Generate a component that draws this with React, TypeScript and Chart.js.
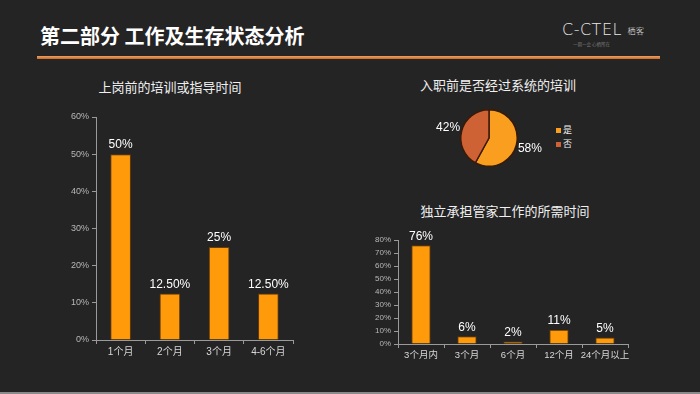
import React, { useEffect, useRef } from "react";
import { Chart, registerables } from "chart.js";

Chart.register(...registerables);

const leftTitle = "上岗前的培训或指导时间";
const leftCategories = ["1个月", "2个月", "3个月", "4-6个月"];
const leftValues = [50, 12.5, 25, 12.5];
const leftLabels = ["50%", "12.50%", "25%", "12.50%"];

const pieTitle = "入职前是否经过系统的培训";
const pieCategories = ["是", "否"];
const pieValues = [58, 42];
const pieLabels = ["58%", "42%"];

const rightTitle = "独立承担管家工作的所需时间";
const rightCategories = ["3个月内", "3个月", "6个月", "12个月", "24个月以上"];
const rightValues = [76, 6, 2, 11, 5];
const rightLabels = ["76%", "6%", "2%", "11%", "5%"];

const FONT = "Arial, 'Liberation Sans', 'Noto Sans CJK SC', sans-serif";
const BAR = "#FF9A0A";
const BAR_BORDER = "#6a3a08";
const AXIS = "#9a9a9a";
const TICK = "#b8b8b8";

function barValuePlugin(labels: string[], size: number) {
  return {
    id: "barValues",
    afterDatasetsDraw(chart: any) {
      const ctx = chart.ctx;
      const meta = chart.getDatasetMeta(0);
      ctx.save();
      ctx.fillStyle = "#ffffff";
      ctx.font = `${size}px ${FONT}`;
      ctx.textAlign = "center";
      ctx.textBaseline = "bottom";
      meta.data.forEach((el: any, i: number) => {
        ctx.fillText(labels[i], el.x, el.y - 3);
      });
      ctx.restore();
    },
  };
}

function makeBar(canvas: HTMLCanvasElement, cats: string[], vals: number[], labels: string[], opts: any) {
  return new Chart(canvas, {
    type: "bar",
    data: {
      labels: cats,
      datasets: [
        {
          data: vals,
          backgroundColor: BAR,
          borderColor: BAR_BORDER,
          borderWidth: 1,
          barPercentage: opts.barPct,
          categoryPercentage: 1,
        },
      ],
    },
    options: {
      animation: false,
      responsive: false,
      maintainAspectRatio: false,
      layout: { padding: opts.padding },
      plugins: { legend: { display: false }, tooltip: { enabled: false } },
      scales: {
        x: {
          offset: true,
          grid: { display: true, drawOnChartArea: false, drawTicks: true, tickLength: 4, color: AXIS, offset: true },
          border: { display: true, color: AXIS, width: 1 },
          ticks: {
            color: "#d8d8d8",
            font: { size: opts.xFont, family: FONT },
            padding: 2,
            maxRotation: 0,
            minRotation: 0,
            autoSkip: false,
          },
          afterFit: (s: any) => { s.height = opts.xHeight; },
        },
        y: {
          min: 0,
          max: opts.max,
          grid: { display: true, drawOnChartArea: false, drawTicks: true, tickLength: 4, color: AXIS },
          border: { display: true, color: AXIS, width: 1 },
          ticks: {
            stepSize: 10,
            color: TICK,
            font: { size: opts.yFont, family: FONT },
            padding: 3,
            autoSkip: false,
            callback: (v: any) => `${v}%`,
          },
          afterFit: (s: any) => { s.width = opts.yWidth; },
        },
      },
    },
    plugins: [barValuePlugin(labels, opts.labelFont)],
  } as any);
}

export default function App() {
  const leftRef = useRef<HTMLCanvasElement>(null);
  const pieRef = useRef<HTMLCanvasElement>(null);
  const rightRef = useRef<HTMLCanvasElement>(null);

  useEffect(() => {
    document.body.style.margin = "0";
    document.body.style.background = "#242424";
    const left = makeBar(leftRef.current!, leftCategories, leftValues, leftLabels, {
      barPct: 0.42,
      padding: { top: 42, right: 10, left: 0, bottom: 0 },
      xHeight: 22,
      yWidth: 36,
      max: 60,
      xFont: 10,
      yFont: 9,
      labelFont: 12,
    });
    const right = makeBar(rightRef.current!, rightCategories, rightValues, rightLabels, {
      barPct: 0.42,
      padding: { top: 20, right: 8, left: 0, bottom: 0 },
      xHeight: 22,
      yWidth: 38,
      max: 80,
      xFont: 9.5,
      yFont: 8,
      labelFont: 12,
    });
    const pie = new Chart(pieRef.current!, {
      type: "pie",
      data: {
        labels: pieCategories,
        datasets: [
          {
            data: pieValues,
            backgroundColor: ["#F99E1E", "#CF6235"],
            borderColor: "#3a1a08",
            borderWidth: 1.5,
          },
        ],
      },
      options: {
        animation: false,
        responsive: false,
        maintainAspectRatio: false,
        layout: { padding: { top: 4, bottom: 4, left: 30, right: 30 } },
        plugins: { legend: { display: false }, tooltip: { enabled: false } },
      },
      plugins: [
        {
          id: "pieLabels",
          afterDatasetsDraw(chart: any) {
            const ctx = chart.ctx;
            const meta = chart.getDatasetMeta(0);
            ctx.save();
            ctx.fillStyle = "#ffffff";
            ctx.font = `12px ${FONT}`;
            ctx.textAlign = "center";
            ctx.textBaseline = "middle";
            meta.data.forEach((el: any, i: number) => {
              const mid = (el.startAngle + el.endAngle) / 2;
              const r = el.outerRadius + 14;
              ctx.fillText(pieLabels[i], el.x + Math.cos(mid) * r, el.y + Math.sin(mid) * r);
            });
            ctx.restore();
          },
        },
      ],
    } as any);
    return () => {
      left.destroy();
      right.destroy();
      pie.destroy();
    };
  }, []);

  const legendColors = ["#F99E1E", "#CF6235"];

  return (
    <div
      style={{
        position: "absolute",
        left: 0,
        top: 0,
        width: 700,
        height: 394,
        background: "#242424",
        overflow: "hidden",
        fontFamily: FONT,
      }}
    >
      <div
        style={{
          position: "absolute",
          left: 40,
          top: 22,
          color: "#ffffff",
          fontSize: 20,
          fontWeight: "bold",
          fontFamily: "'Noto Sans CJK SC', sans-serif",
          lineHeight: "28px",
          whiteSpace: "nowrap",
        }}
      >
        第二部分 工作及生存状态分析
      </div>
      <div
        style={{
          position: "absolute",
          left: 37,
          top: 56,
          width: 623,
          height: 3,
          background: "linear-gradient(#f0a060, #c86a28)",
        }}
      />
      <div style={{ position: "absolute", left: 562, top: 21, color: "#e8e8e8", fontSize: 16, letterSpacing: 0.5, whiteSpace: "nowrap", lineHeight: "18px", fontFamily: "'DejaVu Sans', sans-serif", fontWeight: 300 }}>
        C-CTEL <span style={{ fontSize: 8, verticalAlign: "middle", fontFamily: "'Noto Sans CJK SC', sans-serif" }}>栖客</span>
      </div>
      <div style={{ position: "absolute", left: 573, top: 41, color: "#777", fontSize: 4.5, whiteSpace: "nowrap", fontFamily: "'Noto Sans CJK SC', sans-serif" }}>
        一期一会 心栖所在
      </div>

      <div style={{ position: "absolute", left: 70, top: 78, width: 200, textAlign: "center", color: "#f0f0f0", fontSize: 13, lineHeight: "18px", fontFamily: "'Noto Sans CJK SC', sans-serif", whiteSpace: "nowrap" }}>
        {leftTitle}
      </div>
      <canvas ref={leftRef} width={243} height={287} style={{ position: "absolute", left: 60, top: 75, width: 243, height: 287 }} />

      <div style={{ position: "absolute", left: 398, top: 76, width: 200, textAlign: "center", color: "#f0f0f0", fontSize: 13, lineHeight: "18px", fontFamily: "'Noto Sans CJK SC', sans-serif", whiteSpace: "nowrap" }}>
        {pieTitle}
      </div>
      <canvas ref={pieRef} width={120} height={66} style={{ position: "absolute", left: 429, top: 105, width: 120, height: 66 }} />
      <div style={{ position: "absolute", left: 556, top: 123, fontSize: 9, color: "#f0f0f0", lineHeight: "14px", fontFamily: "'Noto Sans CJK SC', sans-serif" }}>
        {pieCategories.map((c, i) => (
          <div key={c} style={{ display: "flex", alignItems: "center" }}>
            <span style={{ display: "inline-block", width: 5, height: 5, background: legendColors[i], marginRight: 2 }} />
            {c}
          </div>
        ))}
      </div>

      <div style={{ position: "absolute", left: 405, top: 202, width: 200, textAlign: "center", color: "#f0f0f0", fontSize: 13, lineHeight: "18px", fontFamily: "'Noto Sans CJK SC', sans-serif", whiteSpace: "nowrap" }}>
        {rightTitle}
      </div>
      <canvas ref={rightRef} width={276} height={146} style={{ position: "absolute", left: 360, top: 220, width: 276, height: 146 }} />

      <div style={{ position: "absolute", left: 0, top: 392, width: 700, height: 2, background: "#8a8a8a" }} />
    </div>
  );
}
